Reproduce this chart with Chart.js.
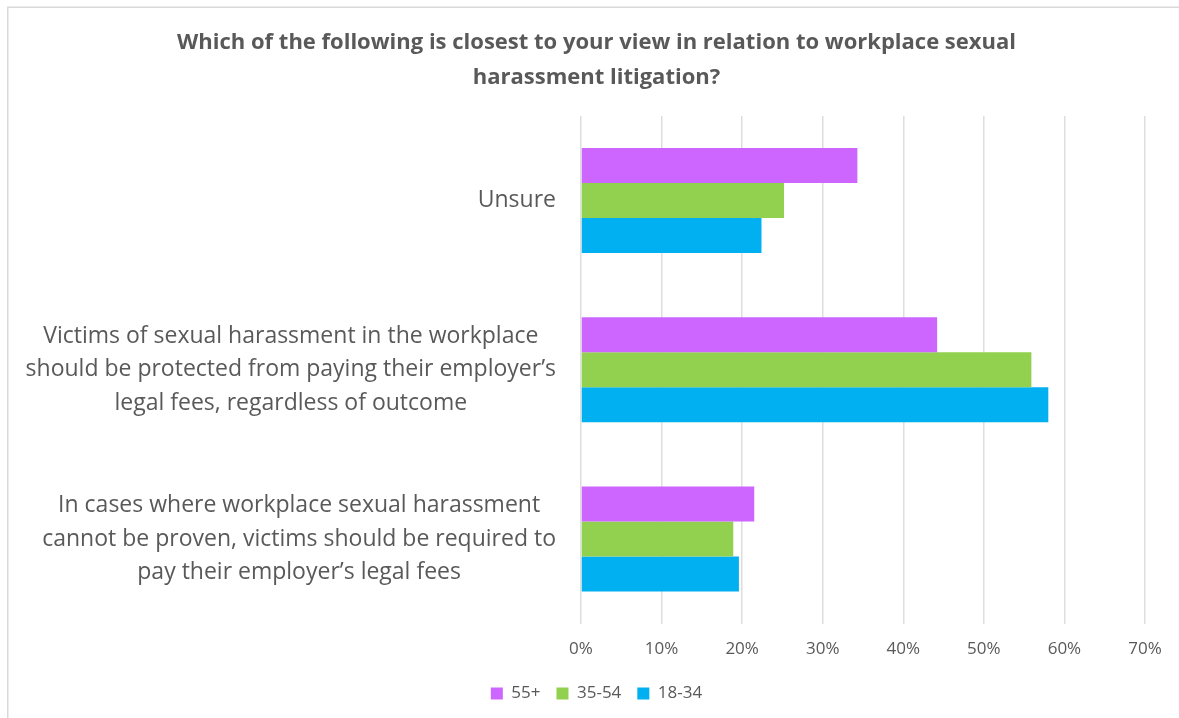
<!DOCTYPE html>
<html>
<head>
<meta charset="utf-8">
<script src="https://cdn.jsdelivr.net/npm/chart.js@4"></script>
<style>
  html, body { margin: 0; padding: 0; background: #ffffff; }
  #wrap { position: relative; width: 1179px; height: 718px; }
</style>
</head>
<body>
<div id="wrap"><canvas id="chart"></canvas></div>
<script>
// Survey answers (top to bottom) and share of each age group, in percent
const categories = [
  ['Unsure'],
  ['Victims of sexual harassment in the workplace',
   'should be protected from paying their employer\u2019s',
   'legal fees, regardless of outcome'],
  ['In cases where workplace sexual harassment',
   'cannot be proven, victims should be required to',
   'pay their employer\u2019s legal fees']
];
const seriesNames = ['55+', '35-54', '18-34'];
const age55plus = [34.3, 44.2, 21.5];
const age35to54 = [25.2, 55.9, 18.9];
const age18to34 = [22.4, 58.0, 19.6];
const tickValues = [0, 10, 20, 30, 40, 50, 60, 70];

const FONT = '"Open Sans", Lato, sans-serif';
const TEXT = '#595959';
const GRID = '#dedede';

// Thin frame along the top and left edges
const framePlugin = {
  id: 'frame',
  beforeDraw(chart) {
    const ctx = chart.ctx;
    ctx.save();
    ctx.strokeStyle = '#d9d9d9';
    ctx.lineWidth = 1.5;
    ctx.beginPath();
    ctx.moveTo(7.75, chart.height);
    ctx.lineTo(7.75, 7.25);
    ctx.lineTo(chart.width, 7.25);
    ctx.stroke();
    ctx.restore();
  }
};

// Category labels: each block right-aligned to the plot, lines centred within the block
const categoryLabelPlugin = {
  id: 'categoryLabels',
  afterDraw(chart) {
    const ctx = chart.ctx;
    const yScale = chart.scales.y;
    const rightEdge = chart.chartArea.left - 25;
    const lineH = 33.5;
    ctx.save();
    ctx.font = '23px ' + FONT;
    ctx.fillStyle = TEXT;
    ctx.textAlign = 'center';
    ctx.textBaseline = 'middle';
    chart.data.labels.forEach((lines, i) => {
      const cy = yScale.getPixelForValue(i);
      const w = Math.max(...lines.map(l => ctx.measureText(l).width));
      const cx = rightEdge - w / 2;
      const y0 = cy - (lines.length - 1) * lineH / 2;
      lines.forEach((l, k) => ctx.fillText(l, cx, y0 + k * lineH));
    });
    ctx.restore();
  }
};

new Chart(document.getElementById('chart'), {
  type: 'bar',
  data: {
    labels: categories,
    datasets: [
      { label: seriesNames[0], data: age55plus, backgroundColor: '#CC66FF' },
      { label: seriesNames[1], data: age35to54, backgroundColor: '#92D050' },
      { label: seriesNames[2], data: age18to34, backgroundColor: '#00B0F0' }
    ]
  },
  options: {
    indexAxis: 'y',
    responsive: true,
    maintainAspectRatio: false,
    animation: false,
    layout: { padding: { left: 48, right: 34, top: 0, bottom: 6 } },
    datasets: { bar: { barPercentage: 1.0, categoryPercentage: 0.621 } },
    scales: {
      x: {
        min: 0, max: 70,
        afterBuildTicks(scale) { scale.ticks = tickValues.map(v => ({ value: v })); },
        afterFit(scale) { scale.height -= 5; },
        border: { display: false },
        grid: { color: GRID, lineWidth: 1.5, drawTicks: false },
        ticks: {
          padding: 15,
          color: TEXT,
          font: { family: FONT, size: 17 },
          callback: v => v + '%'
        }
      },
      y: {
        display: true,
        afterFit(scale) { scale.width = 533; },
        border: { display: false },
        grid: { display: false, drawTicks: false },
        ticks: { display: false }
      }
    },
    plugins: {
      title: {
        display: true,
        text: ['Which of the following is closest to your view in relation to workplace sexual',
               'harassment litigation?'],
        color: TEXT,
        font: { family: FONT, size: 22, weight: 'bold', lineHeight: 1.59 },
        padding: { top: 25, bottom: 21 }
      },
      legend: {
        position: 'bottom',
        labels: {
          boxWidth: 12, boxHeight: 12,
          color: TEXT,
          font: { family: FONT, size: 17 },
          padding: 16
        }
      },
      tooltip: { enabled: false }
    }
  },
  plugins: [framePlugin, categoryLabelPlugin]
});
</script>
</body>
</html>
